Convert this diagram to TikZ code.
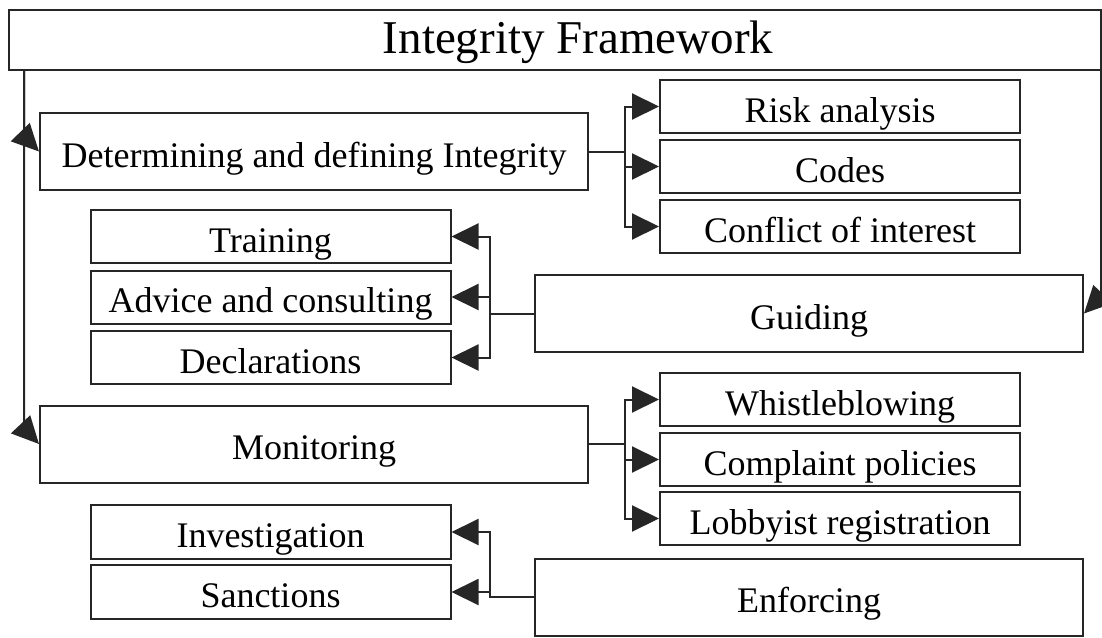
\documentclass[tikz,border=0pt]{standalone}
\usepackage{fontspec}
\setmainfont{Liberation Serif}
\usetikzlibrary{positioning, arrows.meta}

\begin{document}
\begin{tikzpicture}[x=1pt, y=-1pt, node distance=60pt, >={Triangle[length=27pt,width=26pt]}, line width=2pt, draw=black!85]
        % Styles
        \tikzstyle{block} = [draw, rectangle, inner sep=0pt, text height=32pt, text depth=1pt, font=\fontsize{36}{42}\selectfont]
        \tikzstyle{wide} = [block, minimum width=548pt, minimum height=77pt]
        \tikzstyle{small} = [block, minimum width=360pt, minimum height=53pt]
        \useasboundingbox (0,0) rectangle (1102,637);

        % Titre
        \node [block, minimum width=1092pt, minimum height=60pt, text height=35pt, text depth=9pt, font=\fontsize{47}{52}\selectfont] (top) at (555,40) {\hspace*{46pt}Integrity Framework};

        % Blocs principaux
        \node [wide] (determ) at (314,151.5) {Determining and defining Integrity};
        \node [wide] (guiding) at (809,313.5) {Guiding};
        \node [wide] (monitor) at (314,444) {Monitoring};
        \node [wide] (enforce) at (809,597) {Enforcing};

        % Sous-blocs
        \node [small] (risk) at (840,106.5) {Risk analysis};
        \node [small, below of=risk] (codes) {Codes};
        \node [small, below of=codes] (conflict) {Conflict of interest};

        \node [small] (training) at (270.5,236.5) {Training};
        \node [small, below of=training, node distance=60.5pt] (advice) {Advice and consulting};
        \node [small, below of=advice, node distance=60.5pt] (declar) {Declarations};

        \node [small] (whistle) at (840,399.5) {Whistleblowing};
        \node [small, below of=whistle] (complaint) {Complaint policies};
        \node [small, below of=complaint, node distance=59pt] (lobby) {Lobbyist registration};

        \node [small, minimum height=54pt] (invest) at (270.5,532) {Investigation};
        \node [small, minimum height=54pt, below of=invest] (sanction) {Sanctions};

        % Départs du titre
        \coordinate (lsplit) at ([xshift=16pt]top.south west);
        \coordinate (rsplit) at ([xshift=-1pt]top.south east);

        % Connexions du titre
        \draw [->] (lsplit) -- ++(0,65) -- (determ.west);
        \draw [->] (lsplit) -- ++(0,357) -- (monitor.west);
        \draw [->] (rsplit) -- ++(0,225) -- (guiding.east);

        % Branches
        \draw [->] (determ.east) -- ++(36,0) |- (risk.west);
        \draw [->] (determ.east) -- ++(36,0) |- (codes.west);
        \draw [->] (determ.east) -- ++(36,0) |- (conflict.west);

        \draw [->] (guiding.west) -- ++(-44,0) |- (training.east);
        \draw [->] (guiding.west) -- ++(-44,0) |- (advice.east);
        \draw [->] (guiding.west) -- ++(-44,0) |- (declar.east);

        \draw [->] (monitor.east) -- ++(36,0) |- (whistle.west);
        \draw [->] (monitor.east) -- ++(36,0) |- (complaint.west);
        \draw [->] (monitor.east) -- ++(36,0) |- (lobby.west);

        \draw [->] (enforce.west) -- ++(-44,0) |- (invest.east);
        \draw [->] (enforce.west) -- ++(-44,0) |- (sanction.east);

    \end{tikzpicture}
\end{document}
